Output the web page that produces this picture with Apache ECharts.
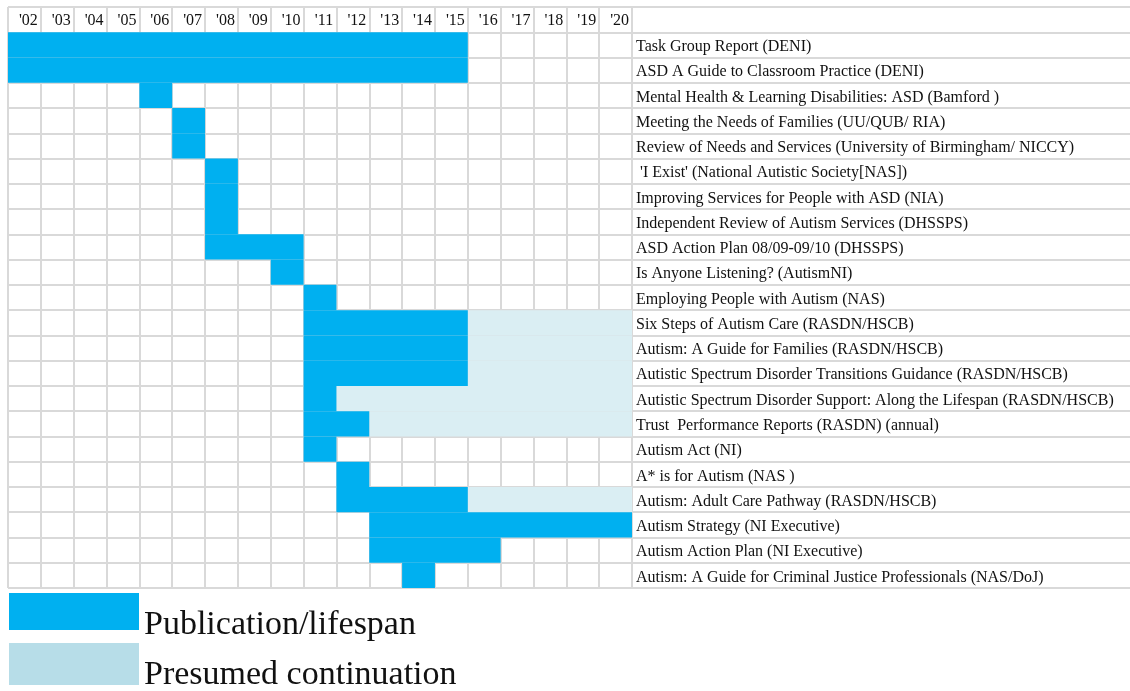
<!DOCTYPE html>
<html>
<head>
<meta charset="utf-8">
<title>Autism publications timeline</title>
<script src="https://cdn.jsdelivr.net/npm/echarts@6/dist/echarts.min.js"></script>
<style>
  html, body { margin: 0; padding: 0; background: #fff; }
  #chart { width: 1130px; height: 691px; }
</style>
</head>
<body>
<div id="chart"></div>
<script>
  // year columns (header tick labels)
  var yearLabels = ["'02", "'03", "'04", "'05", "'06", "'07", "'08", "'09", "'10", "'11",
    "'12", "'13", "'14", "'15", "'16", "'17", "'18", "'19", "'20"];
  var firstYear = 2002;
  var lastYear = 2020;

  var documents = [
    'Task Group Report (DENI)',
    'ASD A Guide to Classroom Practice (DENI)',
    'Mental Health & Learning Disabilities: ASD (Bamford )',
    'Meeting the Needs of Families (UU/QUB/ RIA)',
    'Review of Needs and Services (University of Birmingham/ NICCY)',
    " 'I Exist' (National Autistic Society[NAS])",
    'Improving Services for People with ASD (NIA)',
    'Independent Review of Autism Services (DHSSPS)',
    'ASD Action Plan 08/09-09/10 (DHSSPS)',
    'Is Anyone Listening? (AutismNI)',
    'Employing People with Autism (NAS)',
    'Six Steps of Autism Care (RASDN/HSCB)',
    'Autism: A Guide for Families (RASDN/HSCB)',
    'Autistic Spectrum Disorder Transitions Guidance (RASDN/HSCB)',
    'Autistic Spectrum Disorder Support: Along the Lifespan (RASDN/HSCB)',
    'Trust  Performance Reports (RASDN) (annual)',
    'Autism Act (NI)',
    'A* is for Autism (NAS )',
    'Autism: Adult Care Pathway (RASDN/HSCB)',
    'Autism Strategy (NI Executive)',
    'Autism Action Plan (NI Executive)',
    'Autism: A Guide for Criminal Justice Professionals (NAS/DoJ)'
  ];

  // publication / lifespan: first and last year (inclusive)
  var startYear = [2002, 2002, 2006, 2007, 2007, 2008, 2008, 2008, 2008, 2010, 2011,
    2011, 2011, 2011, 2011, 2011, 2011, 2012, 2012, 2013, 2013, 2014];
  var endYear = [2015, 2015, 2006, 2007, 2007, 2008, 2008, 2008, 2010, 2010, 2011,
    2015, 2015, 2015, 2011, 2012, 2011, 2012, 2015, 2020, 2016, 2014];
  // presumed continuation: last year (inclusive), null when none
  var presumedEnd = [null, null, null, null, null, null, null, null, null, null, null,
    2020, 2020, 2020, 2020, 2020, null, null, 2020, null, null, null];

  var BLUE = '#00b0f0';
  var LIGHT = '#daeef3';
  var LIGHT_KEY = '#b7dde8';
  var GRIDLINE = '#d9d9d9';
  var SERIF = '"Liberation Serif", "DejaVu Serif", serif';

  // header row is category '' at top, then one row per document
  var rows = [''].concat(documents);

  var blueData = [];
  var lightData = [];
  for (var i = 0; i < documents.length; i++) {
    blueData.push([startYear[i], endYear[i] + 1, i + 1]);
    if (presumedEnd[i] != null) {
      lightData.push([endYear[i] + 1, presumedEnd[i] + 1, i + 1]);
    }
  }

  function makeRender(color) {
    return function (params, api) {
      var p0 = api.coord([api.value(0), api.value(2)]);
      var p1 = api.coord([api.value(1), api.value(2)]);
      var h = api.size([0, 1])[1];
      return {
        type: 'rect',
        shape: { x: p0[0], y: p0[1] - h / 2, width: p1[0] - p0[0], height: h },
        style: { fill: color }
      };
    };
  }

  // big legend text sits a little below the middle of its swatch
  function legendText(padTop) {
    return {
      rich: { t: { fontFamily: SERIF, fontSize: 34, color: '#111', padding: [padTop, 0, 0, 0] } }
    };
  }

  var myChart = echarts.init(document.getElementById('chart'));
  myChart.setOption({
    animation: false,
    backgroundColor: '#fff',
    grid: [
      { left: 8, top: 7, width: 624, height: 581 },
      { left: 632, top: 7, width: 520, height: 581 }
    ],
    xAxis: [
      {
        type: 'value', gridIndex: 0, min: firstYear, max: lastYear + 1, interval: 1,
        axisLabel: { show: false }, axisTick: { show: false }, axisLine: { show: false },
        splitLine: { show: true, lineStyle: { color: GRIDLINE, width: 2 } }
      },
      {
        type: 'category', gridIndex: 0, position: 'top', data: yearLabels, boundaryGap: true,
        axisLine: { show: false }, axisTick: { show: false },
        axisLabel: {
          inside: true, margin: 14, verticalAlign: 'middle', padding: [0, 0, 0, 8],
          color: '#111', fontFamily: SERIF, fontSize: 16
        }
      },
      { type: 'value', gridIndex: 1, show: false, min: 0, max: 1 }
    ],
    yAxis: [
      {
        type: 'category', gridIndex: 0, inverse: true, data: rows,
        axisLabel: { show: false }, axisTick: { show: false }, axisLine: { show: false },
        splitLine: { show: true, lineStyle: { color: GRIDLINE, width: 2 } }
      },
      {
        type: 'category', gridIndex: 1, inverse: true, data: rows,
        axisTick: { show: false },
        axisLine: { show: true, lineStyle: { color: GRIDLINE, width: 2 } },
        axisLabel: {
          inside: true, margin: 4, align: 'left',
          formatter: '{t|{value}}',
          rich: { t: { color: '#111', fontFamily: SERIF, fontSize: 16, padding: [4, 0, 0, 0] } }
        },
        splitLine: { show: true, lineStyle: { color: GRIDLINE, width: 2 } }
      }
    ],
    legend: [
      {
        left: 9, top: 593, icon: 'rect', itemWidth: 130, itemHeight: 37, padding: 0,
        formatter: '{t|{name}}', textStyle: legendText(28),
        data: [{ name: 'Publication/lifespan' }]
      },
      {
        left: 9, top: 643, icon: 'rect', itemWidth: 130, itemHeight: 42, padding: 0,
        formatter: '{t|{name}}', textStyle: legendText(23),
        data: [{ name: 'Presumed continuation', itemStyle: { color: LIGHT_KEY } }]
      }
    ],
    series: [
      {
        name: 'Publication/lifespan', type: 'custom', xAxisIndex: 0, yAxisIndex: 0,
        itemStyle: { color: BLUE }, renderItem: makeRender(BLUE),
        encode: { x: [0, 1], y: 2 }, data: blueData, z: 3
      },
      {
        name: 'Presumed continuation', type: 'custom', xAxisIndex: 0, yAxisIndex: 0,
        itemStyle: { color: LIGHT }, renderItem: makeRender(LIGHT),
        encode: { x: [0, 1], y: 2 }, data: lightData, z: 2
      }
    ]
  });
</script>
</body>
</html>
